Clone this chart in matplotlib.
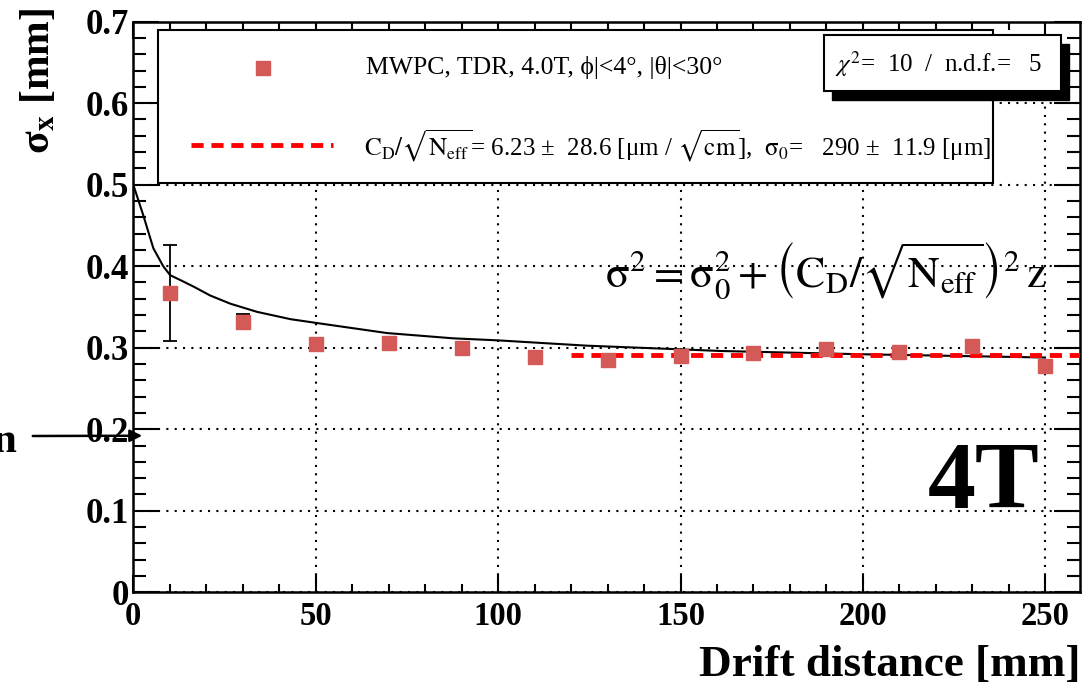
import matplotlib
matplotlib.use("Agg")
import matplotlib.pyplot as plt
from matplotlib.patches import Rectangle
from matplotlib.lines import Line2D
from matplotlib.ticker import MultipleLocator

plt.rcParams['font.family'] = ['Liberation Serif', 'DejaVu Serif']
plt.rcParams['mathtext.fontset'] = 'stix'

# measured resolution vs drift distance
dist = [10, 30, 50, 70, 90, 110, 130, 150, 170, 190, 210, 230, 250]
sigma = [0.367, 0.332, 0.305, 0.306, 0.300, 0.288, 0.285, 0.290,
         0.294, 0.299, 0.295, 0.302, 0.278]
sigma_err = [0.059, 0.0095, 0.004, 0.003, 0.003, 0.003, 0.003, 0.003,
             0.003, 0.003, 0.003, 0.003, 0.003]

# black reference curve
curve_x = [0, 2.7, 5.5, 8.2, 10.1, 13.8, 16.5, 21.1, 26.6, 33.9, 43.1,
           52.3, 69.5, 87.7, 100, 124.3, 149.9, 160.8, 199.2, 249.5]
curve_y = [0.5, 0.463, 0.422, 0.400, 0.389, 0.381, 0.375, 0.364, 0.354,
           0.344, 0.335, 0.329, 0.318, 0.3115, 0.309, 0.3025, 0.298,
           0.296, 0.292, 0.288]

# fit result line
fit_x = [120, 259.5]
fit_y = [0.291, 0.291]

xticks = [0, 50, 100, 150, 200, 250]
xtick_labels = ['0', '50', '100', '150', '200', '250']
yticks = [0, 0.1, 0.2, 0.3, 0.4, 0.5, 0.6, 0.7]
ytick_labels = ['0', '0.1', '0.2', '0.3', '0.4', '0.5', '0.6', '0.7']

xmax = 259.5
ymax = 0.7

fig = plt.figure(figsize=(10.89, 6.88), dpi=100)
ax = fig.add_axes([0.1224, 0.1392, 0.8693, 0.8293])
ax.set_xlim(0, xmax)
ax.set_ylim(0, ymax)

ax.set_xticks(xticks, labels=xtick_labels, fontweight='bold')
ax.set_yticks(yticks, labels=ytick_labels, fontweight='bold')
ax.xaxis.set_minor_locator(MultipleLocator(10))
ax.yaxis.set_minor_locator(MultipleLocator(0.02))
ax.tick_params(axis='both', which='both', direction='in', top=True, right=True,
               width=1.5)
ax.tick_params(axis='x', which='major', length=12, pad=6, labelsize=23.5)
ax.tick_params(axis='x', which='minor', length=6)
ax.tick_params(axis='y', which='major', length=19, pad=3, labelsize=25)
ax.tick_params(axis='y', which='minor', length=9.5)
for s in ax.spines.values():
    s.set_linewidth(1.8)

ax.grid(True, which='major', color='black', linestyle=(0, (1, 3)), linewidth=1.5)

ax.plot(curve_x, curve_y, color='black', lw=1.5, zorder=3)
ax.plot(fit_x, fit_y, color='#ff0000', lw=3.5, linestyle=(0, (2.5, 1.6)), zorder=4)
ax.errorbar(dist, sigma, yerr=sigma_err, fmt='s', color='#d35a56', ms=9.5,
            mec='#d35a56', ecolor='black', elinewidth=1.3, capsize=5, capthick=1.3,
            zorder=5)

# legend box
ax.add_patch(Rectangle((0.0261, 0.7173), 0.882, 0.268, transform=ax.transAxes,
                       facecolor='white', edgecolor='black', lw=1.5, zorder=6))
ax.add_line(Line2D([0.1374], [0.919], transform=ax.transAxes, marker='s', ms=9.5,
                   color='#d35a56', zorder=7))
ax.add_line(Line2D([0.061, 0.211], [0.783, 0.783], transform=ax.transAxes,
                   color='#ff0000', lw=3.5, linestyle=(0, (2.5, 1.6)), zorder=7))
ax.text(0.2462, 0.919, "MWPC, TDR, 4.0T, ϕ|<4°, |θ|<30°", transform=ax.transAxes,
        fontsize=18.5, va='center', ha='left', zorder=7)
ax.text(0.2434, 0.783,
        r"$\mathrm{C_D/\sqrt{N_{eff}}}$= 6.23 ±  28.6 [μm / $\sqrt{\mathrm{cm}}$],  $\mathrm{\sigma_0}$=   290 ±  11.9 [μm]",
        transform=ax.transAxes, fontsize=18, va='center', ha='left', zorder=7)

# chi2 box with shadow
fig.patches.append(Rectangle((824 / 1089 + 8 / 1089, 1 - 100 / 688), 237 / 1089, 56 / 688,
                             transform=fig.transFigure, facecolor='black', edgecolor='black',
                             zorder=8))
fig.patches.append(Rectangle((824 / 1089, 1 - 91 / 688), 237 / 1089, 56 / 688,
                             transform=fig.transFigure, facecolor='white', edgecolor='black',
                             lw=1.5, zorder=9))
fig.text(835 / 1089, 1 - 64 / 688, r"$\chi^2$=  10  /  n.d.f.=   5", fontsize=18,
         va='center', ha='left', zorder=10)

# formula and field label
ax.text(129.3, 0.395,
        r"$\mathrm{\sigma}^2 = \mathrm{\sigma}_0^2 + \left(\mathrm{C_D}/\sqrt{\mathrm{N_{eff}}}\right)^2\,\mathrm{z}$",
        fontsize=31.5, va='center', ha='left', zorder=4)
ax.text(248.5, 0.103, "4T", fontsize=69, fontweight='bold', ha='right', va='baseline',
        zorder=4)

# axis titles
fig.text(0.035, 1 - 8 / 688, r"σ$_\mathbf{x}$ [mm]", rotation=90, fontsize=30,
         fontweight='bold', ha='center', va='top')
fig.text(0.992, 1 - 665 / 688, "Drift distance [mm]", fontsize=32.5, fontweight='bold',
         ha='right', va='center')

# cut-off annotation at the left edge
fig.text(17 / 1089, 1 - 452 / 688, "n", fontsize=31, fontweight='bold', ha='right',
         va='baseline')
ax.annotate('', xy=(3.2, 0.192), xycoords='data',
            xytext=(30 / 1089, 1 - 436 / 688), textcoords='figure fraction',
            arrowprops=dict(arrowstyle='-|>', color='black', lw=1.8, mutation_scale=18),
            annotation_clip=False)

fig.savefig('out.png', dpi=100)
